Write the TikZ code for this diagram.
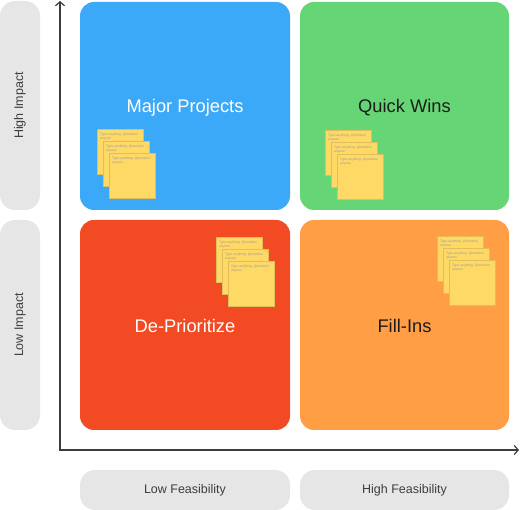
\documentclass[tikz,border=0pt]{standalone}
\usepackage{fontspec}
\setmainfont{Liberation Sans}
\usetikzlibrary{arrows.meta}
\definecolor{qblue}{HTML}{3BA9F8}
\definecolor{qgreen}{HTML}{66D575}
\definecolor{qred}{HTML}{F24A23}
\definecolor{qorange}{HTML}{FF9E45}
\definecolor{pillgray}{HTML}{E6E6E6}
\definecolor{stickyy}{HTML}{FFD966}
\definecolor{axisc}{HTML}{3C3C3C}
\definecolor{darktxt}{HTML}{1C1C1C}
\tikzset{
  quad/.style={rounded corners=14pt, minimum width=210pt, inner sep=0pt, font=\fontsize{18.3}{21}\selectfont},
  qlabel/.style={inner sep=0pt, font=\fontsize{18.3}{21}\selectfont},
  pill/.style={fill=pillgray, rounded corners=15pt, inner sep=0pt, text=darktxt!85, font=\fontsize{12.5}{14}\selectfont},
  sticky/.style={fill=stickyy, draw=stickyy!88!black, line width=0.3pt, minimum width=46pt, minimum height=45pt, inner sep=0pt},
  notetxt/.style={anchor=north west, inner sep=0pt, text width=38pt, align=left, text=black!40, font=\fontsize{3.3}{4.2}\selectfont},
  axisline/.style={draw=axisc, line width=1.5pt, -{Straight Barb[length=4pt,width=9pt,line width=1.2pt]}}
}
\newcommand{\stickystack}[3]{%
  \foreach \k in {0,1,2}{%
    \node[sticky, anchor=north west, fill=black, draw=none, opacity=0.10] (#3s\k) at ({#1+6*\k+0.8},{#2+12*\k+0.8}) {};
    \node[sticky, anchor=north west] (#3n\k) at ({#1+6*\k},{#2+12*\k}) {};
    \node[notetxt] (#3t\k) at ([xshift=3pt,yshift=-4pt]#3n\k.north west) {Type anything, @mention anyone};
  }%
}
\begin{document}
\begin{tikzpicture}[x=1pt,y=-1pt]
\useasboundingbox (0,0) rectangle (520,510);
% side pills
\node[pill, minimum width=209pt, minimum height=40pt, rotate=90] (hi) at (20,105.5) {High Impact};
\node[pill, minimum width=210pt, minimum height=40pt, rotate=90] (lo) at (20,325) {Low Impact};
\node[pill, minimum width=210pt, minimum height=40pt] (lf) at (185,490) {Low Feasibility};
\node[pill, minimum width=209pt, minimum height=40pt] (hf) at (404.5,490) {High Feasibility};
% quadrants
\node[quad, fill=qblue, minimum height=208pt] (mp) at (185,106) {};
\node[quad, fill=qgreen, minimum width=209pt, minimum height=208pt] (qw) at (404.5,106) {};
\node[quad, fill=qred, minimum height=210pt] (dp) at (185,325) {};
\node[quad, fill=qorange, minimum width=209pt, minimum height=210pt] (fi) at (404.5,325) {};
\node[qlabel, text=white] (mpl) at ([yshift=-1.5pt]mp.center) {Major Projects};
\node[qlabel, text=darktxt] (qwl) at ([yshift=-1.5pt]qw.center) {Quick Wins};
\node[qlabel, text=white] (dpl) at ([yshift=-1pt]dp.center) {De-Prioritize};
\node[qlabel, text=darktxt] (fil) at ([yshift=-1pt]fi.center) {Fill-Ins};
% sticky notes
\stickystack{97}{129}{a}
\stickystack{325}{130}{b}
\stickystack{216}{237}{c}
\stickystack{437}{236}{d}
% axes
\coordinate (orig) at (60,450);
\coordinate (ytop) at (60,1);
\coordinate (xend) at (519,450);
\draw[axisline] (orig) -- (ytop);
\draw[axisline] ([xshift=-0.75pt]orig) -- (xend);
\end{tikzpicture}
\end{document}
